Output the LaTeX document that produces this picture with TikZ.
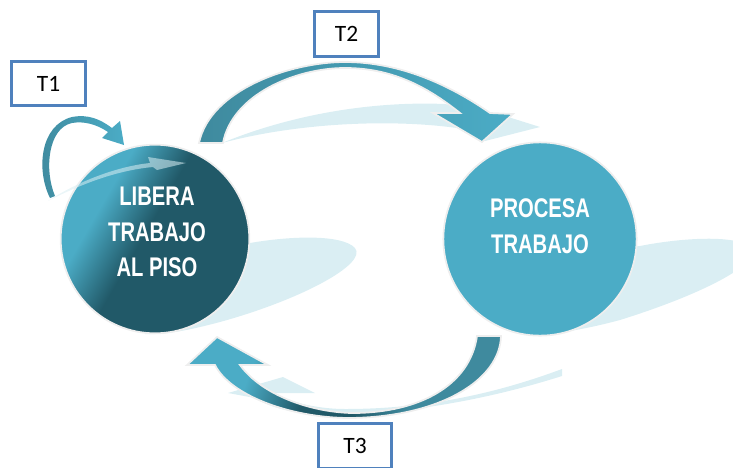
\documentclass[tikz,border=0pt]{standalone}
\usepackage{fontspec}
\newfontfamily\circfont{Liberation Sans}[FakeStretch=0.75]
\newfontfamily\boxfont{Carlito}
\definecolor{lightteal}{RGB}{75,172,198}
\definecolor{darkteal}{RGB}{33,89,104}
\definecolor{midteal}{RGB}{63,138,158}
\definecolor{paleblue}{RGB}{218,238,243}
\definecolor{boxblue}{RGB}{79,129,189}
\definecolor{rimgray}{RGB}{238,238,238}
\pgfdeclarehorizontalshading{liberashade}{100bp}{color(0bp)=(lightteal); color(33bp)=(lightteal); color(47bp)=(darkteal); color(100bp)=(darkteal)}
\pgfdeclarehorizontalshading{returnshade}{100bp}{color(0bp)=(lightteal); color(32bp)=(lightteal); color(44bp)=(darkteal); color(54bp)=(darkteal); color(64bp)=(midteal); color(100bp)=(midteal)}
\begin{document}
\begin{tikzpicture}[x=0.03cm,y=-0.03cm,
  rim/.style={draw=rimgray, line width=1.5pt},
  bubble/.style={circle, rim, inner sep=0pt},
  bubbletext/.style={text=white, font=\circfont\bfseries\fontsize{23}{30.5}\selectfont, align=center},
  tbox/.style={draw=boxblue, line width=2.5pt, fill=white, minimum width=63pt, minimum height=38pt, font=\boxfont\fontsize{20}{24}\selectfont}]
\useasboundingbox (0,0) rectangle (733,467);
% shadows
\fill[paleblue] (200,250) -- (250,243) .. controls (290,236) and (342,234) .. (355,248) .. controls (368,264) and (300,300) .. (220,322) .. controls (190,330) and (165,335) .. (145,334) -- cycle;
\fill[paleblue] (600,250) -- (640,246) .. controls (680,238) and (738,234) .. (751,248) .. controls (762,264) and (700,295) .. (620,320) .. controls (590,328) and (560,334) .. (535,334) -- cycle;
\fill[paleblue] (222,143) .. controls (290,115) and (370,101) .. (445,104) -- (505,116) -- (540,127) -- (485,141) -- (470,130) .. controls (400,118) and (300,122) .. (222,143) -- cycle;
\fill[paleblue] (562,376) .. controls (480,402) and (400,414) .. (330,415) .. controls (300,415) and (270,408) .. (255,398) -- (228,393) -- (283,377) -- (315,393) -- (275,393) .. controls (290,403) and (320,409) .. (345,409) .. controls (430,409) and (500,392) .. (562,369) -- cycle;
% circles
\node[bubble, minimum size=161pt, shading=liberashade, shading angle=-30] (libera) at (155,239) {};
\node[bubble, minimum size=165pt, fill=lightteal] (procesa) at (540,239) {};
% arrows
\shade[rim, left color=midteal, right color=lightteal] (199,143) .. controls (210,90) and (290,62) .. (345,62) .. controls (400,62) and (450,85) .. (490,113) -- (513,114) -- (482,142) -- (433,113) -- (460,113) .. controls (425,85) and (390,68) .. (345,68) .. controls (295,68) and (232,95) .. (223,143) -- cycle;
\shade[rim, shading=returnshade, shading angle=-20] (501,336) .. controls (500,380) and (440,417) .. (350,418) .. controls (290,418) and (230,395) .. (215,365) -- (187,365) -- (217,337) -- (268,365) -- (240,365) .. controls (262,395) and (310,412) .. (352,413) .. controls (420,413) and (470,385) .. (477,336) -- cycle;
\shade[left color=midteal, right color=lightteal] (50,198) .. controls (36,170) and (40,125) .. (72,117) .. controls (88,114) and (100,119) .. (112,128) -- (120,121) -- (124,145) -- (102,138) -- (108,132) .. controls (96,124) and (84,121) .. (72,123) .. controls (48,128) and (44,170) .. (55,196) -- cycle;
\fill[paleblue, opacity=0.55] (48,201) .. controls (80,180) and (120,166) .. (150,163) -- (148,157) -- (186,163) -- (157,170) -- (153,167) .. controls (120,170) and (85,182) .. (48,201) -- cycle;
% texts
\node[bubbletext] (liberatxt) at (157,232) {LIBERA\\TRABAJO\\AL PISO};
\node[bubbletext] (procesatxt) at (540,226) {PROCESA\\TRABAJO};
% labels
\node[tbox] (t1) at (48.5,83.5) {T1};
\node[tbox, minimum width=55pt] (t2) at (346.5,34) {T2};
\node[tbox] (t3) at (355,446) {T3};
\end{tikzpicture}
\end{document}
